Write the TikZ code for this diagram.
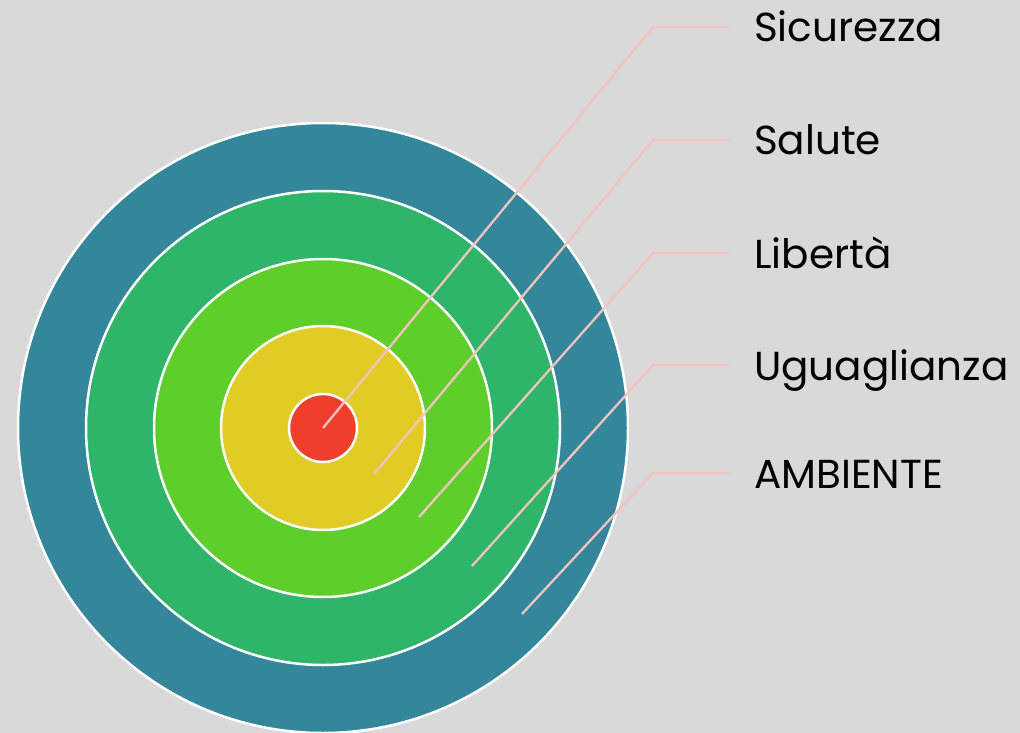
\documentclass[tikz,border=0pt]{standalone}
\usepackage{fontspec}
\setmainfont{Poppins}
\definecolor{bgc}{RGB}{217,217,217}
\definecolor{c1}{RGB}{52,134,155}
\definecolor{c2}{RGB}{46,181,106}
\definecolor{c3}{RGB}{94,206,42}
\definecolor{c4}{RGB}{224,204,36}
\definecolor{c5}{RGB}{239,62,43}
\definecolor{leadc}{RGB}{245,195,190}
\begin{document}
\begin{tikzpicture}[x=1pt,y=-1pt,
  ring/.style={circle, draw=white, line width=2.5pt, inner sep=0pt, outer sep=0pt},
  leader/.style={draw=leadc, line width=2.3pt},
  lab/.style={anchor=base west, inner sep=0pt, font=\fontsize{40.5}{46}\selectfont, text=black}]
\fill[bgc] (0,0) rectangle (1020,733);
\useasboundingbox (0,0) rectangle (1020,733);
\node[ring, fill=c1, minimum size=610pt] (r1) at (323,428) {};
\node[ring, fill=c2, minimum size=474pt] (r2) at (323,428) {};
\node[ring, fill=c3, minimum size=338pt] (r3) at (323,428) {};
\node[ring, fill=c4, minimum size=204pt] (r4) at (323,428) {};
\node[ring, fill=c5, minimum size=68pt] (r5) at (323,428) {};
% leader anchors
\coordinate (p1) at (323,428);
\coordinate (p2) at (374,474);
\coordinate (p3) at (419,517);
\coordinate (p4) at (472,566);
\coordinate (p5) at (522,614);
\coordinate (e1) at (653,27);
\coordinate (e2) at (653,140);
\coordinate (e3) at (653,253);
\coordinate (e4) at (653,365);
\coordinate (e5) at (653,473);
\coordinate (f1) at (729,27);
\coordinate (f2) at (729,140);
\coordinate (f3) at (729,253);
\coordinate (f4) at (729,365);
\coordinate (f5) at (729,473);
\draw[leader] (p1) -- (e1) -- (f1);
\draw[leader] (p2) -- (e2) -- (f2);
\draw[leader] (p3) -- (e3) -- (f3);
\draw[leader] (p4) -- (e4) -- (f4);
\draw[leader] (p5) -- (e5) -- (f5);
\node[lab] (t1) at (754,42) {Sicurezza};
\node[lab] (t2) at (754,155) {Salute};
\node[lab] (t3) at (754,268) {Libertà};
\node[lab] (t4) at (754,380) {Uguaglianza};
\node[lab] (t5) at (754,488) {AMBIENTE};
\end{tikzpicture}
\end{document}
